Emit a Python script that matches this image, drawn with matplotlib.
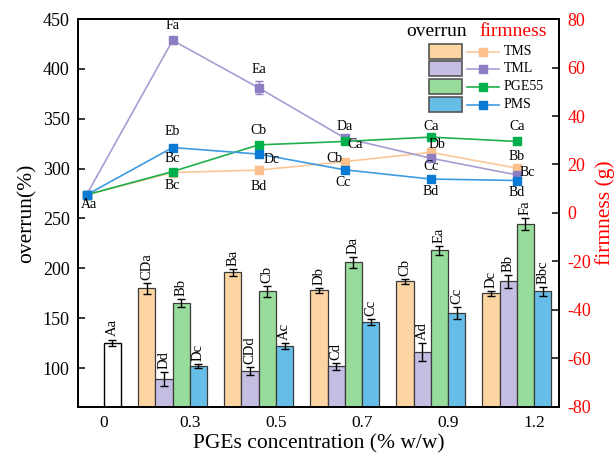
import numpy as np
import matplotlib.pyplot as plt
from matplotlib.patches import Rectangle
from matplotlib.lines import Line2D

plt.rcParams['font.family'] = 'Liberation Serif'
plt.rcParams['axes.unicode_minus'] = False

conc_labels = ['0', '0.3', '0.5', '0.7', '0.9', '1.2']
series = ['TMS', 'TML', 'PGE55', 'PMS']

# overrun (%) - control sample at 0
control_overrun = 125
control_err = 3
control_letter = 'Aa'

# overrun (%) for 0.3 .. 1.2
tms_overrun = [180, 196, 178, 187, 175]
tml_overrun = [89, 97, 102, 116, 187]
pge_overrun = [165, 177, 206, 218, 244]
pms_overrun = [102, 122, 146, 155, 177]
tms_overrun_err = [5.5, 3.3, 2.7, 2.2, 2.3]
tml_overrun_err = [7, 4.3, 3.5, 8.7, 6.7]
pge_overrun_err = [4, 5.3, 5.7, 4.2, 6]
pms_overrun_err = [2, 3.3, 2.8, 6, 4.3]
tms_overrun_sig = ['CDa', 'Ba', 'Db', 'Cb', 'Dc']
tml_overrun_sig = ['Dd', 'CDd', 'Cd', 'Ad', 'Bb']
pge_overrun_sig = ['Bb', 'Cb', 'Da', 'Ea', 'Fa']
pms_overrun_sig = ['Dc', 'Ac', 'Cc', 'Cc', 'Bbc']

# firmness (g) for 0 .. 1.2
tms_firm = [7.5, 16.7, 17.7, 21.2, 25.0, 18.5]
tml_firm = [7.5, 71.2, 51.6, 30.9, 22.6, 15.7]
pge_firm = [7.5, 17.1, 28.1, 29.5, 31.3, 29.5]
pms_firm = [7.5, 27.0, 24.3, 17.8, 14.0, 13.4]
tms_firm_err = [0.5, 0.8, 0.6, 0.8, 0.9, 0.7]
tml_firm_err = [0.5, 0.8, 2.7, 0.8, 0.8, 0.7]
pge_firm_err = [0.5, 1.2, 0.6, 0.6, 0.7, 0.5]
pms_firm_err = [0.5, 0.6, 0.6, 0.6, 0.6, 0.6]
tms_firm_sig = ['', 'Bc', 'Bd', 'Cb', 'Db', 'Bb']
tml_firm_sig = ['', 'Fa', 'Ea', 'Da', 'Cc', 'Bc']
pge_firm_sig = ['', 'Bc', 'Cb', 'Ca', 'Ca', 'Ca']
pms_firm_sig = ['Aa', 'Eb', 'Dc', 'Cc', 'Bd', 'Bd']

# label offsets in pixels (dx, dy) for the firmness letters
tms_off = [(0, 0), (0, -13), (0, -16), (-10, 3), (6, 8), (0, 12)]
tml_off = [(0, 0), (0, 15), (0, 18), (0, 12), (0, -8), (10, 2)]
pge_off = [(0, 0), (0, 13), (0, 14), (10, -3), (0, 11), (0, 15)]
pms_off = [(2, -10), (0, 16), (13, -5), (-2, -13), (0, -12), (0, -12)]

bar_colors = ['#FDD5A2', '#C6BDE3', '#97DC9B', '#66BEE8']
line_colors = ['#F9C898', '#A89CD4', '#1FB04B', '#3E9BE0']
marker_colors = ['#FBC08C', '#8D7EC4', '#00B04C', '#0A7AD4']

overrun = [tms_overrun, tml_overrun, pge_overrun, pms_overrun]
overrun_err = [tms_overrun_err, tml_overrun_err, pge_overrun_err, pms_overrun_err]
overrun_sig = [tms_overrun_sig, tml_overrun_sig, pge_overrun_sig, pms_overrun_sig]
firm = [tms_firm, tml_firm, pge_firm, pms_firm]
firm_err = [tms_firm_err, tml_firm_err, pge_firm_err, pms_firm_err]
firm_sig = [tms_firm_sig, tml_firm_sig, pge_firm_sig, pms_firm_sig]
firm_off = [tms_off, tml_off, pge_off, pms_off]

fig = plt.figure(figsize=(6.16, 4.59), dpi=100)
ax = fig.add_axes([0.1266, 0.1133, 0.7809, 0.8453])
ax2 = ax.twinx()

w = 0.2
offsets = [-0.3, -0.1, 0.1, 0.3]
grp = np.arange(1, 6)
ekw = dict(elinewidth=1, capthick=1, ecolor='black')

ax.bar(0.3, control_overrun, w, yerr=control_err, capsize=3, color='white',
       edgecolor='black', linewidth=1, error_kw=ekw)
ax.annotate(control_letter, (0.3, control_overrun + control_err), xytext=(0, 4),
            textcoords='offset pixels', rotation=90, ha='center', va='bottom', fontsize=10.5)

for k in range(4):
    xs = grp + offsets[k]
    ax.bar(xs, overrun[k], w, yerr=overrun_err[k], capsize=3, color=bar_colors[k],
           edgecolor='#3a3a3a', linewidth=0.9, error_kw=ekw)
    for x, v, e, s in zip(xs, overrun[k], overrun_err[k], overrun_sig[k]):
        ax.annotate(s, (x, v + e), xytext=(0, 3), textcoords='offset pixels',
                    rotation=90, ha='center', va='bottom', fontsize=10.5)

ax.set_xlim(-0.1, 5.49)
ax.set_ylim(61, 450)
ax.set_yticks(np.arange(100, 451, 50))
ax.set_xticks(np.arange(6) + 0.2)
ax.set_xticklabels(conc_labels)
ax.tick_params(axis='x', length=0, labelsize=12.5, pad=6)
ax.tick_params(axis='y', direction='in', length=5, width=1.1, labelsize=13, pad=6)
ax.set_ylabel('overrun(%)', fontsize=15.5, labelpad=4)
ax.set_xlabel('PGEs concentration (% w/w)', fontsize=15.5, labelpad=2)
for sp in ax.spines.values():
    sp.set_linewidth(1.3)

pos = np.arange(6)
for k in range(4):
    ax2.errorbar(pos, firm[k], yerr=firm_err[k], color=line_colors[k], lw=1.2,
                 marker='s', ms=6, mfc=marker_colors[k], mec=marker_colors[k],
                 capsize=3, elinewidth=0.9, ecolor=marker_colors[k])
for k in range(4):
    for x, v, s, (dx, dy) in zip(pos, firm[k], firm_sig[k], firm_off[k]):
        if s:
            ax2.annotate(s, (x, v), xytext=(dx, dy), textcoords='offset pixels',
                         ha='center', va='center', fontsize=10)

ax2.set_ylim(-80, 80)
ax2.set_yticks(np.arange(-80, 81, 20))
ax2.tick_params(axis='y', direction='in', length=5, width=1.1, labelsize=13,
                pad=6, labelcolor='red')
ax2.set_ylabel('firmness (g)', fontsize=15.5, color='red', rotation=90, labelpad=3)
for sp in ax2.spines.values():
    sp.set_linewidth(1.3)

# two-column legend: bar swatch + firmness line for each sample
tr = ax2.transAxes
ax2.text(0.745, 0.968, 'overrun', transform=tr, ha='center', va='center', fontsize=14)
ax2.text(0.904, 0.968, 'firmness', transform=tr, ha='center', va='center', fontsize=14,
         color='red')
row_y = [0.916, 0.872, 0.826, 0.779]
for k in range(4):
    y = row_y[k]
    ax2.add_patch(Rectangle((0.730, y - 0.019), 0.068, 0.038, transform=tr,
                            facecolor=bar_colors[k], edgecolor='#555555', lw=1.2,
                            clip_on=False))
    ax2.add_line(Line2D([0.809, 0.875], [y, y], transform=tr, color=line_colors[k], lw=1.2))
    ax2.add_line(Line2D([0.842], [y], transform=tr, marker='s', ms=6,
                        mfc=marker_colors[k], mec=marker_colors[k], lw=0))
    ax2.text(0.885, y, series[k], transform=tr, ha='left', va='center', fontsize=10)

fig.savefig('out.png', dpi=100)
